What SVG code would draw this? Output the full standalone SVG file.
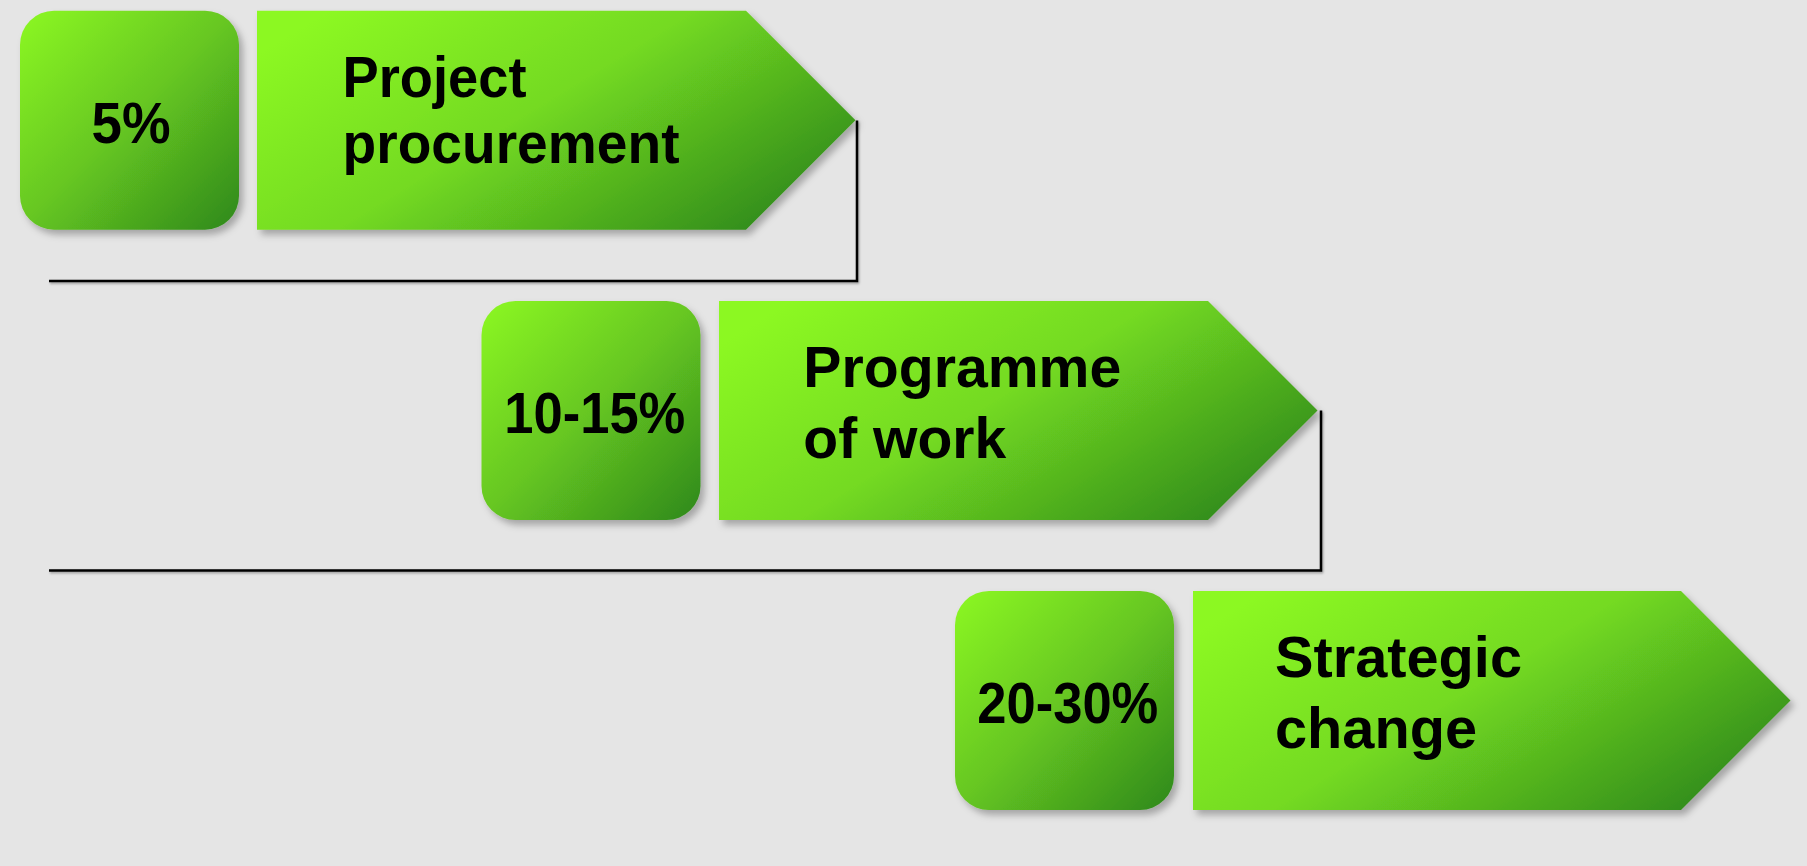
<svg xmlns="http://www.w3.org/2000/svg" width="1807" height="866" viewBox="0 0 1807 866">
  <defs>
    <linearGradient id="gRect" x1="0" y1="0" x2="1" y2="1">
      <stop offset="0" stop-color="#8CF823"/>
      <stop offset="0.5" stop-color="#66C621"/>
      <stop offset="1" stop-color="#2E881C"/>
    </linearGradient>
    <linearGradient id="gArrow" x1="0" y1="0.2" x2="1" y2="0.8">
      <stop offset="0" stop-color="#8CF823"/>
      <stop offset="0.45" stop-color="#74DA21"/>
      <stop offset="1" stop-color="#2E881C"/>
    </linearGradient>
    <filter id="shadow" x="-10%" y="-10%" width="125%" height="130%">
      <feDropShadow dx="4" dy="5" stdDeviation="3.5" flood-color="#000" flood-opacity="0.28"/>
    </filter>
    <filter id="lineShadow" x="-5%" y="-5%" width="110%" height="110%">
      <feDropShadow dx="1" dy="1.5" stdDeviation="0.8" flood-color="#000" flood-opacity="0.35"/>
    </filter>
  </defs>
  <style>
    .pct { fill: url(#gRect); filter: url(#shadow); }
    .arrow { fill: url(#gArrow); filter: url(#shadow); }
    .pctText { font-family: "Liberation Sans", Arial, Helvetica, sans-serif; font-weight: bold; font-size: 58px; fill: #000; text-anchor: middle; }
    .title { font-family: "Liberation Sans", Arial, Helvetica, sans-serif; font-weight: bold; font-size: 58px; fill: #000; }
    .conn { fill: none; stroke: #000; stroke-width: 2.5; filter: url(#lineShadow); }
  </style>
  <rect width="1807" height="866" fill="#E5E5E5"/>

  <g id="connectors">
    <polyline class="conn" points="49,281 857,281 857,120.5"/>
    <polyline class="conn" points="49,570.5 1321,570.5 1321,410.5"/>
    <polyline class="conn" points="1795.5,704 1795.5,866"/>
  </g>

  <g id="pct1">
    <rect class="pct" x="20" y="10.7" width="219" height="219" rx="34" ry="34"/>
    <text class="pctText" x="131" y="143.3" textLength="79" lengthAdjust="spacingAndGlyphs">5%</text>
  </g>
  <g id="stage1">
    <polygon class="arrow" points="257,10.7 746,10.7 855.5,120.2 746,229.7 257,229.7"/>
    <text class="title" x="342.5" y="96.7" textLength="184" lengthAdjust="spacingAndGlyphs">Project</text>
    <text class="title" x="342.5" y="162.7" textLength="337" lengthAdjust="spacingAndGlyphs">procurement</text>
  </g>

  <g id="pct2">
    <rect class="pct" x="481.5" y="301" width="219" height="219" rx="34" ry="34"/>
    <text class="pctText" x="594.8" y="433.3" textLength="181" lengthAdjust="spacingAndGlyphs">10-15%</text>
  </g>
  <g id="stage2">
    <polygon class="arrow" points="719,301 1208,301 1317.5,410.5 1208,520 719,520"/>
    <text class="title" x="803.3" y="387" textLength="318" lengthAdjust="spacingAndGlyphs">Programme</text>
    <text class="title" x="803.3" y="458.3" textLength="203" lengthAdjust="spacingAndGlyphs">of work</text>
  </g>

  <g id="pct3">
    <rect class="pct" x="955" y="591" width="219" height="219" rx="34" ry="34"/>
    <text class="pctText" x="1067.8" y="723.3" textLength="181" lengthAdjust="spacingAndGlyphs">20-30%</text>
  </g>
  <g id="stage3">
    <polygon class="arrow" points="1193,591 1681,591 1790.5,700.5 1681,810 1193,810"/>
    <text class="title" x="1275" y="677" textLength="247" lengthAdjust="spacingAndGlyphs">Strategic</text>
    <text class="title" x="1275" y="748.3" textLength="202" lengthAdjust="spacingAndGlyphs">change</text>
  </g>
</svg>
